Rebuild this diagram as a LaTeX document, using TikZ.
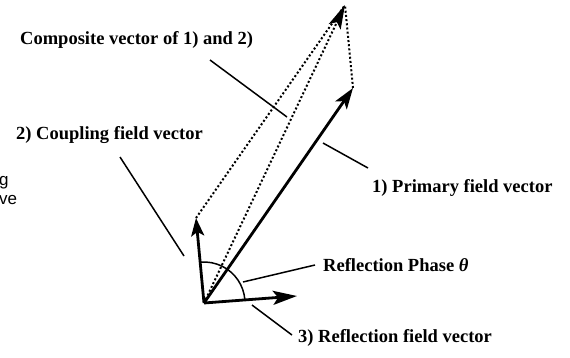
\documentclass[tikz,border=0pt]{standalone}
\usepackage{fontspec}
\setmainfont{Liberation Serif}
\newfontfamily\fragfont{Liberation Sans}
\usetikzlibrary{arrows.meta}

\begin{document}
\begin{tikzpicture}[x=1pt, y=-1pt,
  vec/.style={line width=2.8pt, -{Stealth[length=21pt, width=14pt, inset=5pt]}},
  dotvec/.style={line width=2pt, dash pattern=on 2pt off 2.2pt},
  leader/.style={line width=1.5pt},
  lbl/.style={font=\fontsize{18.5}{22}\selectfont\bfseries, inner sep=0pt, anchor=west},
  frag/.style={font=\fragfont\fontsize{17}{20}\selectfont, inner sep=0pt, anchor=west}
]
  \useasboundingbox (0,0) rectangle (570,357);

  % Origin and vector tips
  \coordinate (O) at (204,303);
  \coordinate (P) at (353,88);
  \coordinate (C) at (196,218);
  \coordinate (R) at (297,296);
  \coordinate (S) at (345,5);

  % Parallelogram and composite vector
  \draw[dotvec] (C) -- (S);
  \draw[dotvec] (P) -- (S);
  \draw[dotvec, -{Stealth[length=24pt, width=13pt, inset=5pt]}] (O) -- (S);

  % Field vectors
  \draw[vec] (O) -- (P);
  \draw[vec, -{Stealth[length=18pt, width=13pt, inset=4pt]}] (O) -- (C);
  \draw[vec, -{Stealth[length=24pt, width=14pt, inset=5pt]}] (O) -- (R);

  % Phase angle
  \draw[leader] ([shift={(-4:41)}]O) arc[start angle=-4, end angle=-95, radius=41];

  % Labels
  \node[lbl] (complbl) at (20,40) {Composite vector of 1) and 2)};
  \node[lbl] (couplbl) at (16,135) {2) Coupling field vector};
  \node[lbl] (primlbl) at (372,188) {1) Primary field vector};
  \node[lbl] (phaselbl) at (323,265) {Reflection Phase {\itshape θ}};
  \node[lbl] (refllbl) at (298,338) {3) Reflection field vector};
  \node[frag] (fraga) at (-1,183) {g};
  \node[frag] (fragb) at (-1,200) {ve};

  % Leader lines
  \coordinate (compa) at (210,60);
  \coordinate (compb) at (287,117);
  \coordinate (coupa) at (120,157);
  \coordinate (coupb) at (184,256);
  \coordinate (prima) at (323,143);
  \coordinate (phasea) at (243,282);
  \coordinate (refla) at (252,305);
  \draw[leader] (compa) -- (compb);
  \draw[leader] (coupa) -- (coupb);
  \draw[leader] (prima) -- ([shift={(-4,-20)}]primlbl.west);
  \draw[leader] (phasea) -- ([xshift=-8pt]phaselbl.west);
  \draw[leader] (refla) -- ([shift={(-6,-3)}]refllbl.west);
\end{tikzpicture}
\end{document}
